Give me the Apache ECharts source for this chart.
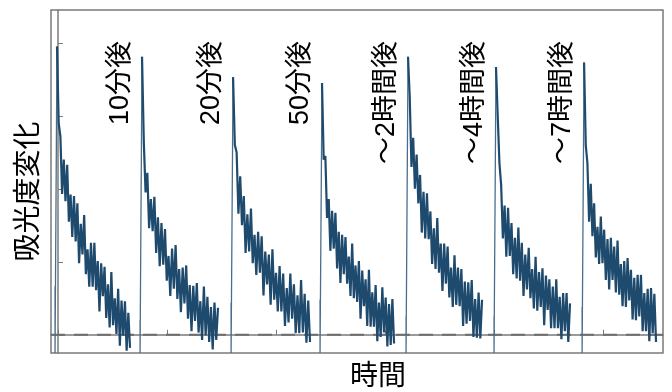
<!DOCTYPE html>
<html>
<head>
<meta charset="utf-8">
<script src="https://cdn.jsdelivr.net/npm/echarts@6/dist/echarts.min.js"></script>
<style>
html,body{margin:0;padding:0;background:#fff;}
#chart{width:672px;height:392px;}
</style>
</head>
<body>
<div id="chart"></div>
<script>
// 吸光度変化の減衰 (7回の測定)
const labels = ['10分後', '20分後', '50分後', '～2時間後', '～4時間後', '～7時間後'];
const xTicks = [0, 1, 2, 3, 4, 5];
const yTicks = [0, 1, 2, 3, 4];
const traceStart = [-0.009, 0.771, 1.606, 2.422, 3.211, 4.018, 4.826];
const traceEnd = [0.661, 1.468, 2.312, 3.083, 3.89, 4.697, 5.486];
const preLevel = [0.66, 0.2, 0.44, 0.48, 0.25, 0.25, 0.38];
const baseline = 0;

const trace1 = [3.95, 2.9, 2.72, 1.93, 2.40, 1.83, 2.33, 1.55, 1.92, 1.34, 1.90, 1.28, 1.80, 0.98, 1.52, 1.10,
  1.64, 0.83, 1.17, 0.66, 1.26, 0.66, 1.26, 0.61, 1.01, 0.32, 0.98, 0.53, 0.93, 0.23, 0.69, 0.10, 0.86, 0.13,
  0.50, 0.01, 0.63, -0.15, 0.47, -0.01, 0.46, -0.22, 0.30, -0.18];
const trace2 = [3.81, 2.65, 1.95, 2.22, 1.46, 1.86, 1.42, 1.89, 1.12, 1.61, 0.94, 1.53, 0.96, 1.45, 0.74, 1.08,
  0.53, 1.18, 0.63, 1.23, 0.49, 0.90, 0.31, 0.92, 0.43, 0.95, 0.22, 0.68, 0.05, 0.67, 0.19, 0.71, 0.03, 0.46,
  -0.07, 0.66, -0.01, 0.52, -0.1, 0.38, -0.2, 0.44, -0.07, 0.37];
const trace3 = [3.53, 2.6, 2.5, 1.66, 2.17, 1.5, 1.9, 1.12, 1.65, 1.14, 1.73, 0.98, 1.37, 0.82, 1.41, 0.85,
  1.35, 0.54, 1.14, 0.69, 1.1, 0.41, 1.17, 0.48, 0.85, 0.32, 0.94, 0.32, 0.84, 0.12, 0.64, 0.17, 0.84, 0.22,
  0.69, 0.02, 0.54, 0.02, 0.75, 0.03, 0.56, -0.11, 0.47, -0.1];
const trace4 = [3.45, 2.4, 2.45, 1.6, 1.86, 1.15, 1.7, 1.18, 1.67, 0.91, 1.41, 0.71, 1.37, 0.83, 1.34, 0.7,
  1.07, 0.53, 1.25, 0.5, 0.95, 0.45, 1.01, 0.22, 0.88, 0.39, 0.76, 0.12, 0.89, 0.11, 0.58, 0.11, 0.68, -0.09,
  0.44, -0.03, 0.65, 0.03, 0.51, -0.16, 0.42, -0.14, 0.49, -0.12];
const trace5 = [3.81, 3.25, 2.3, 2.7, 2.0, 2.47, 1.8, 2.19, 1.4, 1.96, 1.32, 1.94, 1.31, 1.69, 0.97, 1.46,
  0.9, 1.6, 0.85, 1.25, 0.6, 1.25, 0.7, 1.21, 0.51, 0.92, 0.38, 1.09, 0.41, 0.92, 0.39, 0.9, 0.12, 0.73,
  0.15, 0.72, 0.19, 0.75, -0.03, 0.49, -0.04, 0.58, -0.05, 0.48];
const trace6 = [3.67, 3.0, 2.35, 2.05, 1.32, 1.77, 1.07, 1.74, 1.08, 1.53, 0.83, 1.33, 0.77, 1.47, 0.74, 1.26,
  0.53, 1.1, 0.62, 1.19, 0.5, 0.9, 0.36, 1.07, 0.33, 0.86, 0.38, 0.91, 0.13, 0.81, 0.34, 0.76, 0.09, 0.66,
  0.09, 0.76, 0.09, 0.52, -0.06, 0.57, 0.05, 0.57, -0.1, 0.43];
const trace7 = [3.73, 2.6, 2.35, 1.55, 2.07, 1.35, 1.8, 1.06, 1.48, 0.97, 1.62, 0.98, 1.44, 0.75, 1.31, 0.62,
  1.33, 0.75, 1.21, 0.58, 1.29, 0.55, 0.97, 0.39, 1.01, 0.38, 1.05, 0.47, 0.89, 0.21, 0.78, 0.2, 0.82, 0.25,
  0.82, 0.05, 0.57, 0.05, 0.63, -0.09, 0.64, 0.02, 0.56, -0.1];
const traces = [trace1, trace2, trace3, trace4, trace5, trace6, trace7];

const xMin = -0.064, xMax = 5.55;
const yMin = -0.25, yMax = 4.45;
const lineColor = '#1e4a6e';
const jumpColor = '#4a6d8c';
const frameColor = '#7a7a7a';
const fontFamily = "'Liberation Sans', 'Noto Sans CJK JP', sans-serif";

const chart = echarts.init(document.getElementById('chart'));

// 基線 (破線)
const series = [{
  type: 'line',
  data: [[xMin, baseline], [xMax, baseline]],
  symbol: 'none',
  silent: true,
  z: 1,
  lineStyle: { color: '#6e6e6e', width: 2, type: [14, 9] }
}];
traces.forEach(function (vals, i) {
  const s = traceStart[i];
  const step = (traceEnd[i] - s) / (vals.length - 1);
  // 立ち上がり部分 (細線)
  series.push({
    type: 'line',
    data: [[s - 0.018, preLevel[i]], [s - 0.018, yMin], [s, yMin], [s, vals[0]]],
    symbol: 'none',
    z: 2,
    lineStyle: { color: jumpColor, width: 1.3 }
  });
  // 減衰部分
  const data = vals.map(function (v, k) { return [s + k * step, v]; });
  series.push({
    type: 'line',
    data: data,
    symbol: 'none',
    z: 3,
    lineStyle: { color: lineColor, width: 2.2, join: 'miter', miterLimit: 3 }
  });
});

chart.setOption({
  animation: false,
  grid: {
    left: 51, right: 9, top: 10, bottom: 39, outerBoundsMode: 'none',
    show: true, borderColor: frameColor, borderWidth: 1.5
  },
  xAxis: {
    type: 'value', min: xMin, max: xMax,
    name: '時間', nameLocation: 'middle', nameGap: 10,
    nameTextStyle: { fontSize: 28, color: '#000', fontFamily: fontFamily, padding: [0, 0, 0, 42] },
    axisLine: { lineStyle: { color: frameColor, width: 1.5 } },
    axisTick: { inside: true, length: 5, customValues: xTicks, lineStyle: { color: frameColor } },
    axisLabel: { show: false },
    splitLine: { show: false }
  },
  yAxis: {
    type: 'value', min: yMin, max: yMax,
    name: '吸光度変化', nameLocation: 'middle', nameGap: 8, nameRotate: 90,
    nameTextStyle: { fontSize: 28, color: '#000', fontFamily: fontFamily, padding: [0, 20, 0, 0] },
    axisLine: { show: true, lineStyle: { color: frameColor, width: 1.5 } },
    axisTick: { show: true, inside: true, length: 5, customValues: yTicks, lineStyle: { color: frameColor } },
    axisLabel: { show: false },
    splitLine: { show: false }
  },
  series: series
});

// 各測定の注記 (縦書き)
const graphics = labels.map(function (t, i) {
  const p = chart.convertToPixel({ gridIndex: 0 }, [traceStart[i + 1] - 0.2, 0]);
  return {
    type: 'text',
    x: p[0], y: 41,
    rotation: Math.PI / 2,
    style: {
      text: t, fontSize: 27, fontFamily: fontFamily, fill: '#000',
      align: 'right', verticalAlign: 'middle'
    }
  };
});
chart.setOption({ graphic: graphics });
</script>
</body>
</html>
